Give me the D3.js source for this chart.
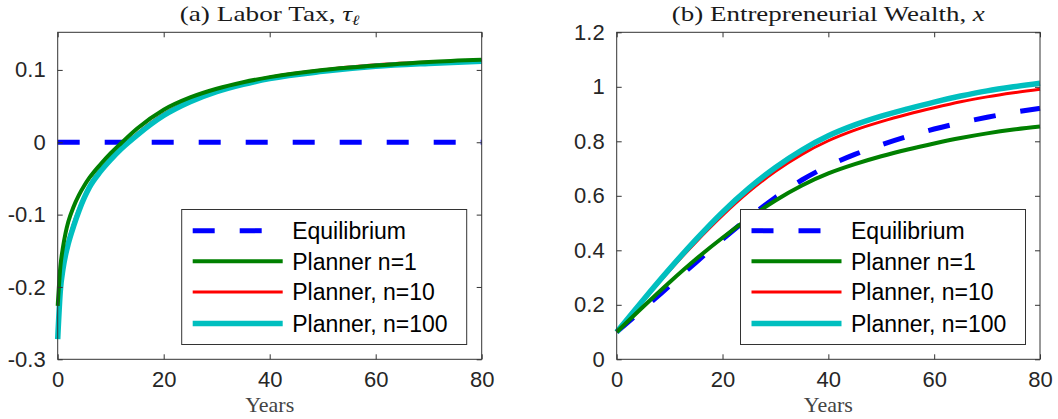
<!DOCTYPE html>
<html lang="en">
<head>
<meta charset="UTF-8">
<title>Labor Tax and Entrepreneurial Wealth</title>
<script src="https://d3js.org/d3.v7.min.js"></script>
<style>
  html, body { margin: 0; padding: 0; background: #fff; }
  svg { display: block; }
</style>
</head>
<body>
<svg id="chart" width="1058" height="419"></svg>
<script>
// ---- data ----
// (a) labor tax
const taxYears = [0, 0.5, 1, 1.5, 2, 3, 4, 5, 6, 8, 10, 12, 15, 20, 25, 30, 35, 40, 50, 60, 70, 80];
const taxEquilibrium = [0, 0, 0, 0, 0, 0, 0, 0, 0, 0, 0, 0, 0, 0, 0, 0, 0, 0, 0, 0, 0, 0];
const taxPlanner1 = [-0.226, -0.172, -0.145, -0.125, -0.11, -0.089, -0.073, -0.06, -0.049, -0.031, -0.015, -0.001, 0.019, 0.045, 0.062, 0.074, 0.083, 0.09, 0.1, 0.106, 0.111, 0.114];
const taxPlanner10 = [-0.262, -0.2, -0.171, -0.151, -0.136, -0.112, -0.092, -0.075, -0.06, -0.039, -0.022, -0.007, 0.012, 0.039, 0.058, 0.072, 0.082, 0.09, 0.1, 0.107, 0.111, 0.113];
const taxPlanner100 = [-0.272, -0.205, -0.175, -0.155, -0.14, -0.116, -0.095, -0.077, -0.062, -0.041, -0.024, -0.009, 0.01, 0.037, 0.056, 0.07, 0.08, 0.088, 0.098, 0.105, 0.109, 0.112];

// (b) entrepreneurial wealth
const wealthYears = [0, 5, 10, 15, 20, 25, 30, 35, 40, 45, 50, 55, 60, 65, 70, 75, 80];
const wealthEquilibrium = [0.10, 0.184, 0.27, 0.356, 0.44, 0.52, 0.594, 0.658, 0.71, 0.752, 0.787, 0.818, 0.845, 0.868, 0.888, 0.906, 0.921];
const wealthPlanner1 = [0.10, 0.193, 0.283, 0.368, 0.446, 0.518, 0.583, 0.638, 0.682, 0.716, 0.745, 0.77, 0.792, 0.812, 0.829, 0.843, 0.854];
const wealthPlanner10 = [0.10, 0.215, 0.326, 0.431, 0.528, 0.615, 0.69, 0.752, 0.802, 0.841, 0.872, 0.899, 0.923, 0.945, 0.963, 0.978, 0.991];
const wealthPlanner100 = [0.10, 0.218, 0.332, 0.44, 0.54, 0.628, 0.704, 0.768, 0.82, 0.86, 0.892, 0.919, 0.944, 0.966, 0.985, 1.0, 1.013];

// ticks
const xTicks = [0, 20, 40, 60, 80];
const taxTicks = [-0.3, -0.2, -0.1, 0, 0.1];
const taxTickLabels = ["-0.3", "-0.2", "-0.1", "0", "0.1"];
const wealthTicks = [0, 0.2, 0.4, 0.6, 0.8, 1, 1.2];
const wealthTickLabels = ["0", "0.2", "0.4", "0.6", "0.8", "1", "1.2"];

const seriesNames = ["Equilibrium", "Planner n=1", "Planner, n=10", "Planner, n=100"];
const seriesColors = ["#0000ff", "#008000", "#ff0000", "#00bfbf"];
const seriesWidths = [5, 4, 3, 5.5];
const seriesDash = ["22,25", null, null, null];
// draw order: equilibrium, n=10, n=100, n=1 (green sits on top in panel a)
const drawOrder = [0, 2, 3, 1];

const svg = d3.select("#chart");
const axisColor = "#333";
const sansFont = "'Liberation Sans', Arial, Helvetica, sans-serif";
const serifFont = "'Liberation Serif', 'Times New Roman', serif";

function drawPanel(p) {
    const x = d3.scaleLinear().domain([0, 80]).range([p.left, p.right]);
    const y = d3.scaleLinear().domain(p.yDomain).range([p.bottom, p.top]);
    const g = svg.append("g");

    // lines
    const line = d3.line()
        .x(d => x(d[0]))
        .y(d => y(d[1]))
        .curve(d3.curveMonotoneX);

    drawOrder.forEach(i => {
        const pts = p.years.map((t, k) => [t, p.series[i][k]]);
        g.append("path")
            .attr("d", line(pts))
            .attr("fill", "none")
            .attr("stroke", seriesColors[i])
            .attr("stroke-width", seriesWidths[i])
            .attr("stroke-linejoin", "round")
            .attr("stroke-dasharray", seriesDash[i]);
    });

    // box
    g.append("rect")
        .attr("x", p.left).attr("y", p.top)
        .attr("width", p.right - p.left).attr("height", p.bottom - p.top)
        .attr("fill", "none").attr("stroke", axisColor).attr("stroke-width", 1);

    // ticks (inside, all four sides) with d3 axes
    const tk = 5;
    g.append("g").attr("transform", `translate(0,${p.bottom})`)
        .call(d3.axisBottom(x).tickValues(xTicks).tickSize(-tk).tickPadding(12)
            .tickFormat(d3.format("d")))
        .call(a => a.select(".domain").remove())
        .call(a => a.selectAll("line").attr("stroke", axisColor))
        .call(a => a.selectAll("text").attr("fill", "#262626")
            .style("font-family", sansFont).style("font-size", "22px"));
    g.append("g").attr("transform", `translate(0,${p.top})`)
        .call(d3.axisTop(x).tickValues(xTicks).tickSize(-tk).tickFormat(""))
        .call(a => a.select(".domain").remove())
        .call(a => a.selectAll("line").attr("stroke", axisColor));
    g.append("g").attr("transform", `translate(${p.left},0)`)
        .call(d3.axisLeft(y).tickValues(p.yTicks).tickSize(-tk).tickPadding(12)
            .tickFormat((d, i) => p.yTickLabels[i]))
        .call(a => a.select(".domain").remove())
        .call(a => a.selectAll("line").attr("stroke", axisColor))
        .call(a => a.selectAll("text").attr("fill", "#262626")
            .style("font-family", sansFont).style("font-size", "22px"));
    g.append("g").attr("transform", `translate(${p.right},0)`)
        .call(d3.axisRight(y).tickValues(p.yTicks).tickSize(-tk).tickFormat(""))
        .call(a => a.select(".domain").remove())
        .call(a => a.selectAll("line").attr("stroke", axisColor));

    // title
    const cx = (p.left + p.right) / 2;
    const title = g.append("text")
        .attr("x", cx).attr("y", 21)
        .attr("text-anchor", "middle")
        .attr("fill", "#1a1a1a")
        .style("font-family", serifFont).style("font-size", "21px");
    title.append("tspan").text(p.title);
    title.append("tspan").attr("font-style", "italic").text(p.symbol);
    if (p.sub) {
        title.append("tspan").attr("font-style", "italic")
            .attr("font-size", "14px").attr("dy", 4).text(p.sub);
    }
    title.attr("textLength", p.titleWidth).attr("lengthAdjust", "spacingAndGlyphs");

    // x label
    g.append("text")
        .attr("x", cx).attr("y", 412)
        .attr("text-anchor", "middle")
        .attr("fill", "#444")
        .style("font-family", serifFont).style("font-size", "22px")
        .text("Years");

    // legend
    const lg = g.append("g");
    lg.append("rect")
        .attr("x", p.legX).attr("y", 209.5)
        .attr("width", 285).attr("height", 135)
        .attr("fill", "#fff").attr("stroke", axisColor).attr("stroke-width", 1);
    const rowY = [230.7, 261.3, 292, 323.5];
    seriesNames.forEach((name, i) => {
        lg.append("line")
            .attr("x1", p.legX + 11).attr("x2", p.legX + 101)
            .attr("y1", rowY[i]).attr("y2", rowY[i])
            .attr("stroke", seriesColors[i])
            .attr("stroke-width", seriesWidths[i])
            .attr("stroke-dasharray", seriesDash[i]);
        lg.append("text")
            .attr("x", p.legX + 110.5).attr("y", rowY[i] + 8.2)
            .attr("fill", "#000")
            .style("font-family", sansFont).style("font-size", "23px")
            .text(name);
    });
}

drawPanel({
    left: 57.7, right: 481.7, top: 32.3, bottom: 359.3,
    yDomain: [-0.3, 0.152],
    yTicks: taxTicks, yTickLabels: taxTickLabels,
    years: taxYears,
    series: [taxEquilibrium, taxPlanner1, taxPlanner10, taxPlanner100],
    title: "(a) Labor Tax, ", symbol: "τ", sub: "ℓ", titleWidth: 180,
    legX: 181.7
});

drawPanel({
    left: 616.7, right: 1040, top: 32.3, bottom: 359.3,
    yDomain: [0, 1.2],
    yTicks: wealthTicks, yTickLabels: wealthTickLabels,
    years: wealthYears,
    series: [wealthEquilibrium, wealthPlanner1, wealthPlanner10, wealthPlanner100],
    title: "(b) Entrepreneurial Wealth, ", symbol: "x", sub: null, titleWidth: 313,
    legX: 740.5
});
</script>
</body>
</html>
